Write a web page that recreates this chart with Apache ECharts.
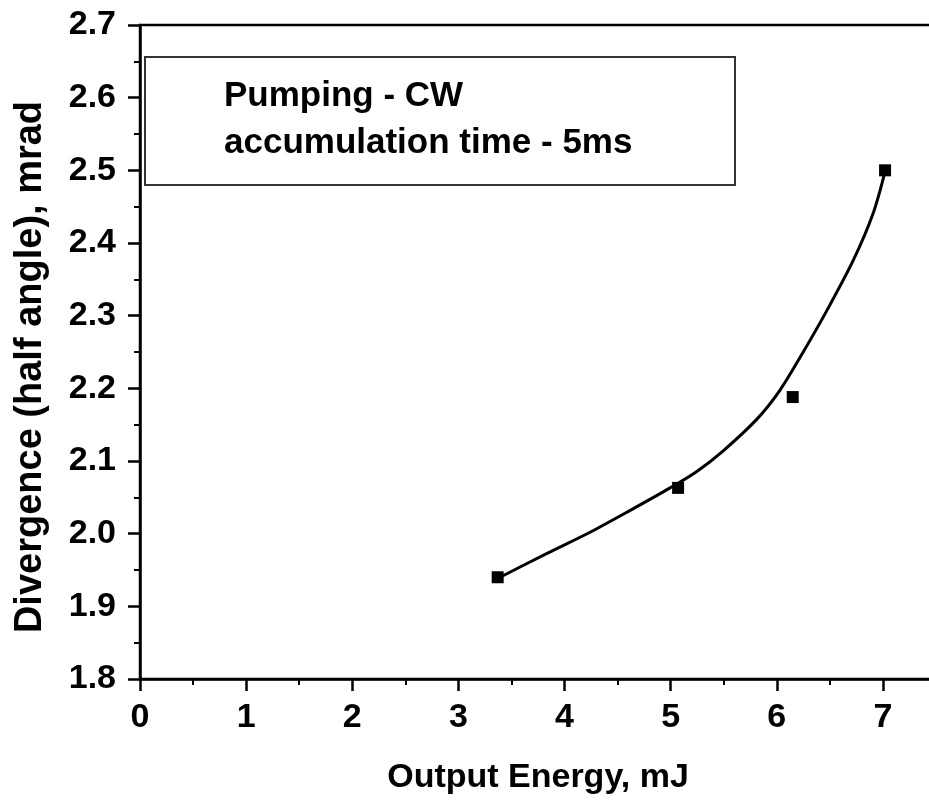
<!DOCTYPE html>
<html>
<head>
<meta charset="utf-8">
<script src="https://cdn.jsdelivr.net/npm/echarts@6/dist/echarts.min.js"></script>
<style>
  html, body { margin: 0; padding: 0; background: #fff; }
  #chart { width: 929px; height: 800px; }
</style>
</head>
<body>
<div id="chart"></div>
<script>
// measured points (output energy, mJ / divergence, mrad)
var energy = [3.37, 5.07, 6.15, 7.02];
var divergence = [1.94, 2.063, 2.188, 2.50];

// fitted curve
var fitX = [3.365, 3.836, 4.241, 4.618, 4.995, 5.250, 5.495, 5.815, 6.032, 6.249, 6.475, 6.720, 6.908, 7.021];
var fitY = [1.938, 1.973, 2.002, 2.032, 2.063, 2.086, 2.114, 2.158, 2.198, 2.250, 2.308, 2.376, 2.441, 2.499];

var legendLines = ['Pumping - CW', 'accumulation time - 5ms'];
var yTitle = 'Divergence (half angle), mrad';
var xTitle = 'Output Energy, mJ';

var chart = echarts.init(document.getElementById('chart'));

// zip helper
function pairs(xs, ys) {
  var out = [];
  for (var i = 0; i < xs.length; i++) {
    out.push([xs[i], ys[i]]);
  }
  return out;
}

var font = 'Liberation Sans, Arial, sans-serif';
var axisLine = { show: true, lineStyle: { color: '#000', width: 2.5 } };

var option = {
  animation: false,
  backgroundColor: '#fff',
  grid: {
    left: 140,
    top: 25,
    right: -7,
    bottom: 121,
    outerBoundsMode: 'none',
    containLabel: false,
    show: true,
    borderColor: '#000',
    borderWidth: 2.5
  },
  xAxis: {
    type: 'value',
    min: 0,
    max: 7.5,
    interval: 1,
    name: xTitle,
    nameLocation: 'middle',
    nameGap: 82,
    nameTextStyle: { fontFamily: font, fontWeight: 'bold', fontSize: 34, color: '#000' },
    axisLine: axisLine,
    axisTick: { show: true, inside: false, length: 12, lineStyle: { color: '#000', width: 2.5 } },
    minorTick: { show: true, splitNumber: 2, length: 6, lineStyle: { color: '#000', width: 2 } },
    splitLine: { show: false },
    axisLabel: {
      showMaxLabel: false,
      margin: 22,
      fontFamily: font, fontWeight: 'bold', fontSize: 34, color: '#000'
    }
  },
  yAxis: {
    type: 'value',
    min: 1.8,
    max: 2.7,
    interval: 0.1,
    axisLine: axisLine,
    axisTick: { show: true, inside: false, length: 12, lineStyle: { color: '#000', width: 2.5 } },
    minorTick: { show: true, splitNumber: 2, length: 6, lineStyle: { color: '#000', width: 2 } },
    splitLine: { show: false },
    axisLabel: {
      margin: 24,
      fontFamily: font, fontWeight: 'bold', fontSize: 34, color: '#000',
      formatter: function (v) { return v.toFixed(1); }
    }
  },
  graphic: [
    {
      type: 'text',
      x: 31,
      y: 367,
      rotation: Math.PI / 2,
      style: {
        text: yTitle, font: 'bold 38px ' + font, fill: '#000',
        align: 'center', verticalAlign: 'middle'
      }
    },
    {
      type: 'rect',
      left: 144,
      top: 56,
      shape: { width: 590, height: 128 },
      style: { fill: '#fff', stroke: '#333', lineWidth: 2 },
      z: 10
    },
    {
      type: 'text',
      x: 224,
      y: 96,
      style: { text: legendLines[0], font: 'bold 35px ' + font, fill: '#000', verticalAlign: 'middle' },
      z: 11
    },
    {
      type: 'text',
      x: 224,
      y: 143,
      style: { text: legendLines[1], font: 'bold 35px ' + font, fill: '#000', verticalAlign: 'middle' },
      z: 11
    }
  ],
  series: [
    {
      name: 'fit',
      type: 'line',
      data: pairs(fitX, fitY),
      smooth: 0.3,
      showSymbol: false,
      lineStyle: { color: '#000', width: 3 },
      z: 2
    },
    {
      name: 'data',
      type: 'scatter',
      data: pairs(energy, divergence),
      symbol: 'rect',
      symbolSize: 12,
      itemStyle: { color: '#000', opacity: 1 },
      z: 3
    }
  ]
};

chart.setOption(option);
</script>
</body>
</html>
